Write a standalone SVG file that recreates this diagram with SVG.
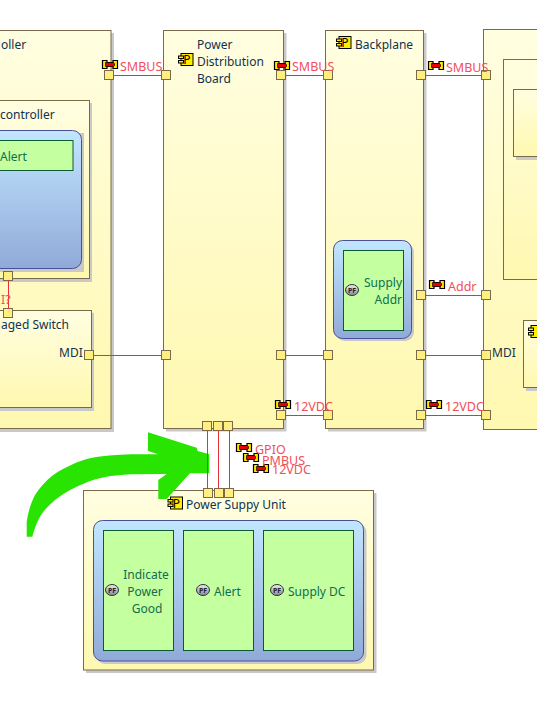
<svg xmlns="http://www.w3.org/2000/svg" width="537" height="715" viewBox="0 0 537 715">
<style>
text{font-family:"Noto Sans","Open Sans","Liberation Sans",sans-serif;font-size:12px}
.blk{fill:url(#gy);stroke:#7a6a4a;stroke-width:1}
.sh{fill:#c9c9c9}
.blu{fill:url(#gb);stroke:#4a4f9c;stroke-width:1}
.grn{fill:#c4ffa0;stroke:#0a5a34;stroke-width:1}
.port{fill:#ffee80;stroke:#7a6a4a;stroke-width:1}
text.lbl{fill:#f0505a;font-size:12.500px}
.nm{fill:#10324e}
.fn{fill:#0f6e50}
.wire{stroke:#e8303a;stroke-width:1;fill:none}
text.pft{font-size:7px;fill:#222;font-weight:700;text-anchor:middle}
text.pt{font-size:12px;fill:#000;text-anchor:middle}
</style>
<defs>
<linearGradient id="gy" x1="0" y1="0" x2="0" y2="1"><stop offset="0" stop-color="#fffee0"/><stop offset="1" stop-color="#fff8b0"/></linearGradient>
<linearGradient id="gb" x1="0" y1="0" x2="0" y2="1"><stop offset="0" stop-color="#c2e6ff"/><stop offset="1" stop-color="#90aad8"/></linearGradient>
<linearGradient id="gp" x1="0" y1="0" x2="0" y2="1"><stop offset="0" stop-color="#eee"/><stop offset="1" stop-color="#889"/></linearGradient>
<g id="flow"><path d="M0.500 0.500h4.500v2h6v-2h4.500v8h-4.500v-2h-6v2h-4.500z" fill="#ffe600" stroke="#000" stroke-width="1.200"/><path d="M3.500 2.500h8l1 1.200v1.600l-1 1.200h-8z" fill="#e80000" stroke="#000" stroke-width="0.700"/></g>
<g id="cmp"><rect x="3" y="0.500" width="12" height="12" fill="#ffee00" stroke="#000"/><rect x="0.500" y="3" width="5" height="2.500" fill="#ffee00" stroke="#000"/><rect x="0.500" y="7.500" width="5" height="2.500" fill="#ffee00" stroke="#000"/></g>
<g id="pf"><ellipse cx="0" cy="0" rx="6.500" ry="5.500" fill="url(#gp)" stroke="#333"/></g>
</defs>

<g id="left-block">
<rect class="sh" x="-10" y="33" width="124" height="399"/>
<rect class="blk" x="-10" y="30.500" width="121" height="398"/>
<text class="nm" x="1" y="49">oller</text>
</g>
<g id="controller">
<rect class="sh" x="-10" y="103" width="102" height="179"/>
<rect class="blk" x="-10" y="100.500" width="99.500" height="178"/>
<text class="nm" x="0" y="119">controller</text>
<rect class="sh" x="-10" y="133" width="94" height="139"/>
<rect class="blu" x="-10" y="130.500" width="91.500" height="138" rx="9"/>
<rect class="grn" x="-10" y="140.500" width="83" height="30"/>
<text class="fn" x="0" y="161">Alert</text>
<rect class="port" x="3.500" y="271.500" width="9" height="9"/>
</g>
<g id="managed-switch">
<rect class="sh" x="-10" y="313" width="104" height="98"/>
<rect class="blk" x="-10" y="310.500" width="101.500" height="97"/>
<text class="nm" x="1" y="329">aged Switch</text>
<text class="nm" x="59" y="357">MDI</text>
<rect class="port" x="3.500" y="308.500" width="9" height="9"/>
<rect class="port" x="84.500" y="350.500" width="9" height="9"/>
</g>
<g id="left-block-port"><rect class="port" x="104.500" y="70.500" width="9" height="9"/></g>

<g id="power-distribution-board">
<rect class="sh" x="166" y="33" width="120.500" height="398.500"/>
<rect class="blk" x="163.500" y="30.500" width="120" height="398"/>
<use href="#cmp" x="178" y="53"/><text class="pt" x="187" y="64">P</text>
<text class="nm" x="197" y="49">Power</text>
<text class="nm" x="197" y="66">Distribution</text>
<text class="nm" x="197" y="83">Board</text>
<rect class="port" x="161.500" y="70.500" width="9" height="9"/>
<rect class="port" x="276.500" y="70.500" width="9" height="9"/>
<rect class="port" x="161.500" y="350.500" width="9" height="9"/>
<rect class="port" x="276.500" y="350.500" width="9" height="9"/>
<rect class="port" x="276.500" y="410.500" width="9" height="9"/>
<rect class="port" x="202.500" y="421.500" width="9" height="9"/>
<rect class="port" x="213.500" y="421.500" width="9" height="9"/>
<rect class="port" x="223.500" y="421.500" width="9" height="9"/>
</g>

<g id="backplane">
<rect class="sh" x="328" y="33" width="98.500" height="398.500"/>
<rect class="blk" x="325.500" y="30.500" width="98" height="398"/>
<use href="#cmp" x="336" y="36"/><text class="pt" x="345" y="47">P</text>
<text class="nm" x="355" y="49">Backplane</text>
<rect class="sh" x="336" y="243" width="78" height="98" rx="9"/>
<rect class="blu" x="333.500" y="240.500" width="78" height="98" rx="9"/>
<rect class="grn" x="343.500" y="250.500" width="60" height="80"/>
<use href="#pf" x="352" y="290"/><text class="pft" x="352" y="292.500">PF</text>
<text class="fn" x="402" y="287" text-anchor="end">Supply</text>
<text class="fn" x="402" y="304" text-anchor="end">Addr</text>
<rect class="port" x="323.500" y="70.500" width="9" height="9"/>
<rect class="port" x="416.500" y="70.500" width="9" height="9"/>
<rect class="port" x="416.500" y="290.500" width="9" height="9"/>
<rect class="port" x="323.500" y="350.500" width="9" height="9"/>
<rect class="port" x="416.500" y="350.500" width="9" height="9"/>
<rect class="port" x="323.500" y="410.500" width="9" height="9"/>
<rect class="port" x="416.500" y="410.500" width="9" height="9"/>
</g>

<g id="right-block">
<rect class="blk" x="483.500" y="29.500" width="70" height="400"/>
<rect class="blk" x="503.500" y="59.500" width="50" height="220"/>
<rect class="sh" x="516" y="92" width="40" height="68"/>
<rect class="blk" x="513.500" y="89.500" width="40" height="67"/>
<rect class="sh" x="526" y="323" width="30" height="68"/>
<rect class="blk" x="523.500" y="320.500" width="30" height="67"/>
<use href="#cmp" x="528" y="325"/>
<text class="nm" x="492" y="357">MDI</text>
<rect class="port" x="481.500" y="70.500" width="9" height="9"/>
<rect class="port" x="481.500" y="290.500" width="9" height="9"/>
<rect class="port" x="481.500" y="350.500" width="9" height="9"/>
<rect class="port" x="481.500" y="410.500" width="9" height="9"/>
</g>

<g id="power-supply-unit">
<rect class="sh" x="86" y="493" width="290.500" height="180"/>
<rect class="blk" x="83.500" y="490.500" width="290" height="179.500"/>
<use href="#cmp" x="167.500" y="496.500"/><text class="pt" x="176.500" y="507.500">P</text>
<text class="nm" x="186" y="509">Power Suppy Unit</text>
<rect class="sh" x="96" y="523" width="270.500" height="141" rx="9"/>
<rect class="blu" x="93.500" y="520.500" width="270" height="140.500" rx="9"/>
<rect class="grn" x="103.500" y="530.500" width="70" height="120"/>
<rect class="grn" x="183.500" y="530.500" width="70" height="120"/>
<rect class="grn" x="263.500" y="530.500" width="90" height="120"/>
<use href="#pf" x="112" y="590"/><text class="pft" x="112" y="592.500">PF</text>
<use href="#pf" x="203" y="590"/><text class="pft" x="203" y="592.500">PF</text>
<use href="#pf" x="277" y="590"/><text class="pft" x="277" y="592.500">PF</text>
<text class="fn" x="146" y="579" text-anchor="middle">Indicate</text>
<text class="fn" x="145" y="596" text-anchor="middle">Power</text>
<text class="fn" x="147" y="613" text-anchor="middle">Good</text>
<text class="fn" x="214" y="596">Alert</text>
<text class="fn" x="288" y="596">Supply DC</text>
<rect class="port" x="203.500" y="488.500" width="9" height="9"/>
<rect class="port" x="214.500" y="488.500" width="9" height="9"/>
<rect class="port" x="224.500" y="488.500" width="9" height="9"/>
</g>

<g id="big-arrow">
<path fill="#28e400" d="M26.700 536.700L32.300 536.700C34 530 36 525 38.300 520C42 512 48 506 55 500C66 491 76 487 88 481.700C104 476 118 475 131.700 474.300L166.700 474L158.300 480L158.300 499L166.700 499L190 473.300L209.300 473.300L209.300 454.300L197.700 451L196.700 447.700L148 432.300L148 451L158 454.300C138 454 118 454 98 456.700C82 459 70 465 58 471.700C48 478 41 486 35 495C31 503 28 512 26.700 521.700Z"/>
</g>

<g id="connectors">
<path class="wire" d="M113.500 75.500H161.500M285.500 75.500H323.500M425.500 75.500H481.500M425.500 295.500H481.500M93.500 355.500H161.500M285.500 355.500H323.500M425.500 355.500H481.500M285.500 415.500H323.500M425.500 415.500H481.500M8.500 280.500V308.500M207.500 430.500V488.500M218.500 430.500V488.500M229.500 430.500V488.500"/>
<use href="#flow" x="102" y="60"/>
<use href="#flow" x="274" y="61"/>
<use href="#flow" x="428" y="61"/>
<use href="#flow" x="429" y="280"/>
<use href="#flow" x="275" y="400"/>
<use href="#flow" x="426" y="400"/>
<use href="#flow" x="236" y="443"/>
<use href="#flow" x="243" y="453"/>
<use href="#flow" x="253" y="464"/>
<text class="lbl" x="120" y="71">SMBUS</text>
<text class="lbl" x="292" y="71">SMBUS</text>
<text class="lbl" x="446" y="72">SMBUS</text>
<text class="lbl" x="448" y="291">Addr</text>
<text class="lbl" x="294" y="411">12VDC</text>
<text class="lbl" x="445" y="411">12VDC</text>
<text class="lbl" x="255" y="454">GPIO</text>
<text class="lbl" x="262" y="465">PMBUS</text>
<text class="lbl" x="272" y="474">12VDC</text>
<text class="lbl" x="1" y="304">I?</text>
</g>
</svg>
